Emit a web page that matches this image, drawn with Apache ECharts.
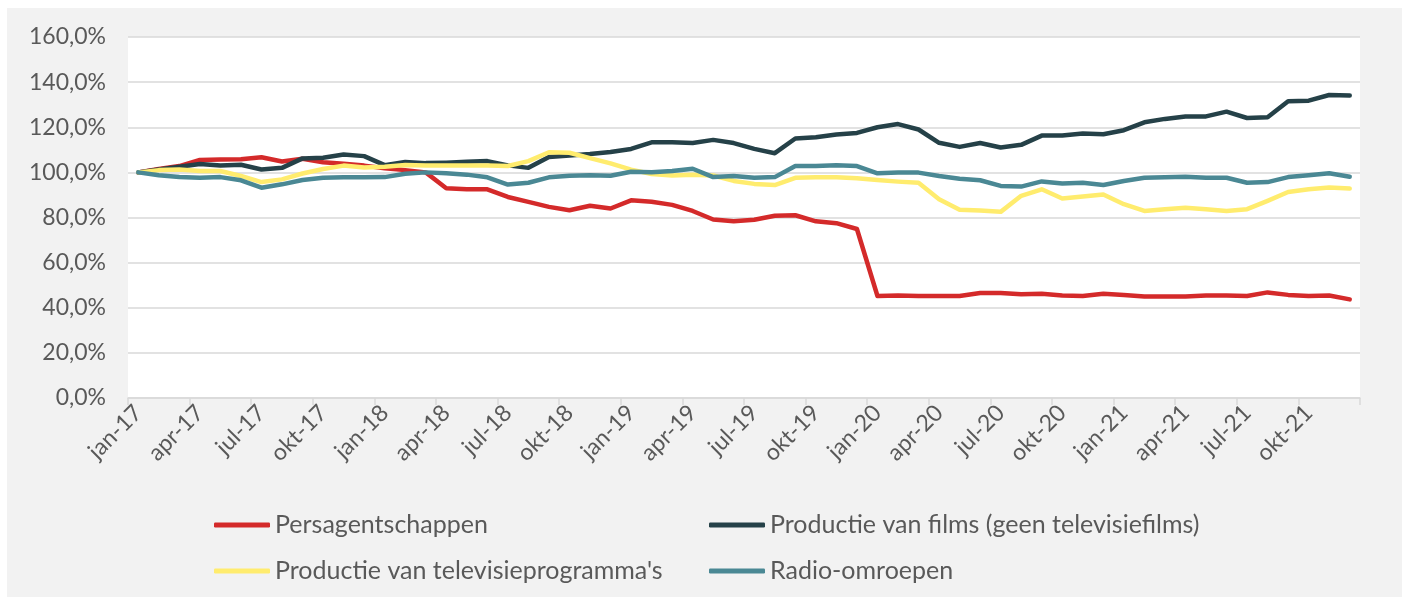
<!DOCTYPE html>
<html>
<head>
<meta charset="utf-8">
<script src="https://cdn.jsdelivr.net/npm/echarts@6/dist/echarts.min.js"></script>
<style>
html,body{margin:0;padding:0;background:#fff;}
#wrap{position:relative;width:1402px;height:597px;background:#fff;overflow:hidden;}
#chart{position:absolute;left:7px;top:8px;width:1395px;height:589px;background:#f2f2f2;}
</style>
</head>
<body>
<div id="wrap"><div id="chart"></div></div>
<script>
const monthNames = ['jan','feb','mrt','apr','mei','jun','jul','aug','sep','okt','nov','dec'];
const years = ['17','18','19','20','21'];
const categories = [];
years.forEach(y => monthNames.forEach(m => categories.push(m + '-' + y)));

const persagentschappen = [100,101.5,102.8,105.5,105.7,105.8,106.7,104.8,106,104.5,103.8,103,101.8,101,100,93,92.5,92.5,89.1,86.9,84.7,83.2,85.2,84,87.6,87,85.6,82.9,79.1,78.3,79,80.8,81,78.3,77.5,74.9,45.2,45.4,45.2,45.2,45.2,46.5,46.5,46,46.2,45.4,45.2,46.2,45.7,45,45,45,45.4,45.4,45.2,46.8,45.7,45.2,45.4,43.7];
const films = [100,101.3,102.5,103.7,103.1,103.4,101.3,102,106.2,106.5,107.9,107.2,103.2,104.6,104.1,104.3,104.7,105,103.1,102,106.8,107.5,108.1,109,110.4,113.3,113.3,113,114.4,113,110.4,108.5,115,115.6,116.8,117.5,120,121.4,119,113.1,111.3,113,111,112.2,116.3,116.3,117.2,116.9,118.7,122.2,123.7,124.8,124.8,126.9,124.1,124.4,131.5,131.8,134.3,134.1];
const televisie = [100,101,101.3,100.6,100.6,98.4,95.7,96.9,99.5,101.5,103,102.2,102.5,103.3,103,103.1,103.1,103.1,102.8,105,108.9,108.7,106.3,104,101.2,99.3,98.6,99,98.6,96.2,94.9,94.4,97.6,97.8,97.8,97.4,96.6,95.9,95.4,88.1,83.4,83.1,82.5,89.6,92.5,88.4,89.3,90.2,85.9,82.9,83.7,84.3,83.7,82.9,83.7,87.4,91.3,92.5,93.3,92.8];
const radio = [100,98.7,97.9,97.6,97.9,96.5,93.2,94.7,96.6,97.6,97.8,97.8,97.9,99.4,100,99.6,99,97.8,94.6,95.4,97.8,98.5,98.7,98.5,100.3,100.1,100.6,101.6,97.9,98.4,97.6,97.9,102.8,102.8,103.2,102.8,99.6,99.9,99.9,98.4,97.2,96.5,94,93.7,96,95.1,95.4,94.4,96.2,97.6,97.8,98.1,97.6,97.6,95.4,95.7,97.9,98.7,99.6,98.1];

const seriesNames = ['Persagentschappen','Productie van films (geen televisiefilms)',"Productie van televisieprogramma's",'Radio-omroepen'];
const seriesData = [persagentschappen, films, televisie, radio];
const colors = ['#d42a2a','#254148','#ffec6e','#4a8894'];

const FONT = 'Lato';
const TXT = '#595959';

const chart = echarts.init(document.getElementById('chart'), null, {renderer:'canvas'});
const legendCommon = {
  orient:'vertical',
  top:502,
  padding:0,
  itemWidth:56,
  itemHeight:5,
  itemGap:16,
  icon:'roundRect',
  textStyle:{fontFamily:FONT,fontSize:25,color:TXT,lineHeight:30,padding:[0,0,0,0]},
  selectedMode:false
};
chart.setOption({
  backgroundColor:'transparent',
  animation:false,
  color:colors,
  grid:{left:121,top:29,width:1232,height:361,show:true,backgroundColor:'#ffffff',borderWidth:0,containLabel:false},
  legend:[
    Object.assign({left:207,data:[seriesNames[0],seriesNames[2]]}, legendCommon),
    Object.assign({left:702,data:[seriesNames[1],seriesNames[3]]}, legendCommon)
  ],
  xAxis:{
    type:'category',
    data:categories,
    boundaryGap:true,
    axisLine:{lineStyle:{color:'#d9d9d9',width:1.5}},
    axisTick:{show:true,interval:2,length:7,lineStyle:{color:'#d9d9d9',width:1.5}},
    axisLabel:{interval:2,rotate:45,margin:11,fontFamily:FONT,fontSize:23,color:TXT},
    splitLine:{show:false}
  },
  yAxis:{
    type:'value',
    min:0,max:160,interval:20,
    axisLine:{show:false},
    axisTick:{show:false},
    axisLabel:{margin:22,fontFamily:FONT,fontSize:23,color:TXT,
      formatter:v=>v.toFixed(1).replace('.',',')+'%'},
    splitLine:{lineStyle:{color:'#d9d9d9',width:1.5}}
  },
  series:seriesNames.map((n,i)=>({
    name:n,type:'line',data:seriesData[i],symbol:'none',smooth:false,
    lineStyle:{width:4.5,color:colors[i],cap:'round',join:'round'},
    itemStyle:{color:colors[i]}
  }))
});
</script>
</body>
</html>
